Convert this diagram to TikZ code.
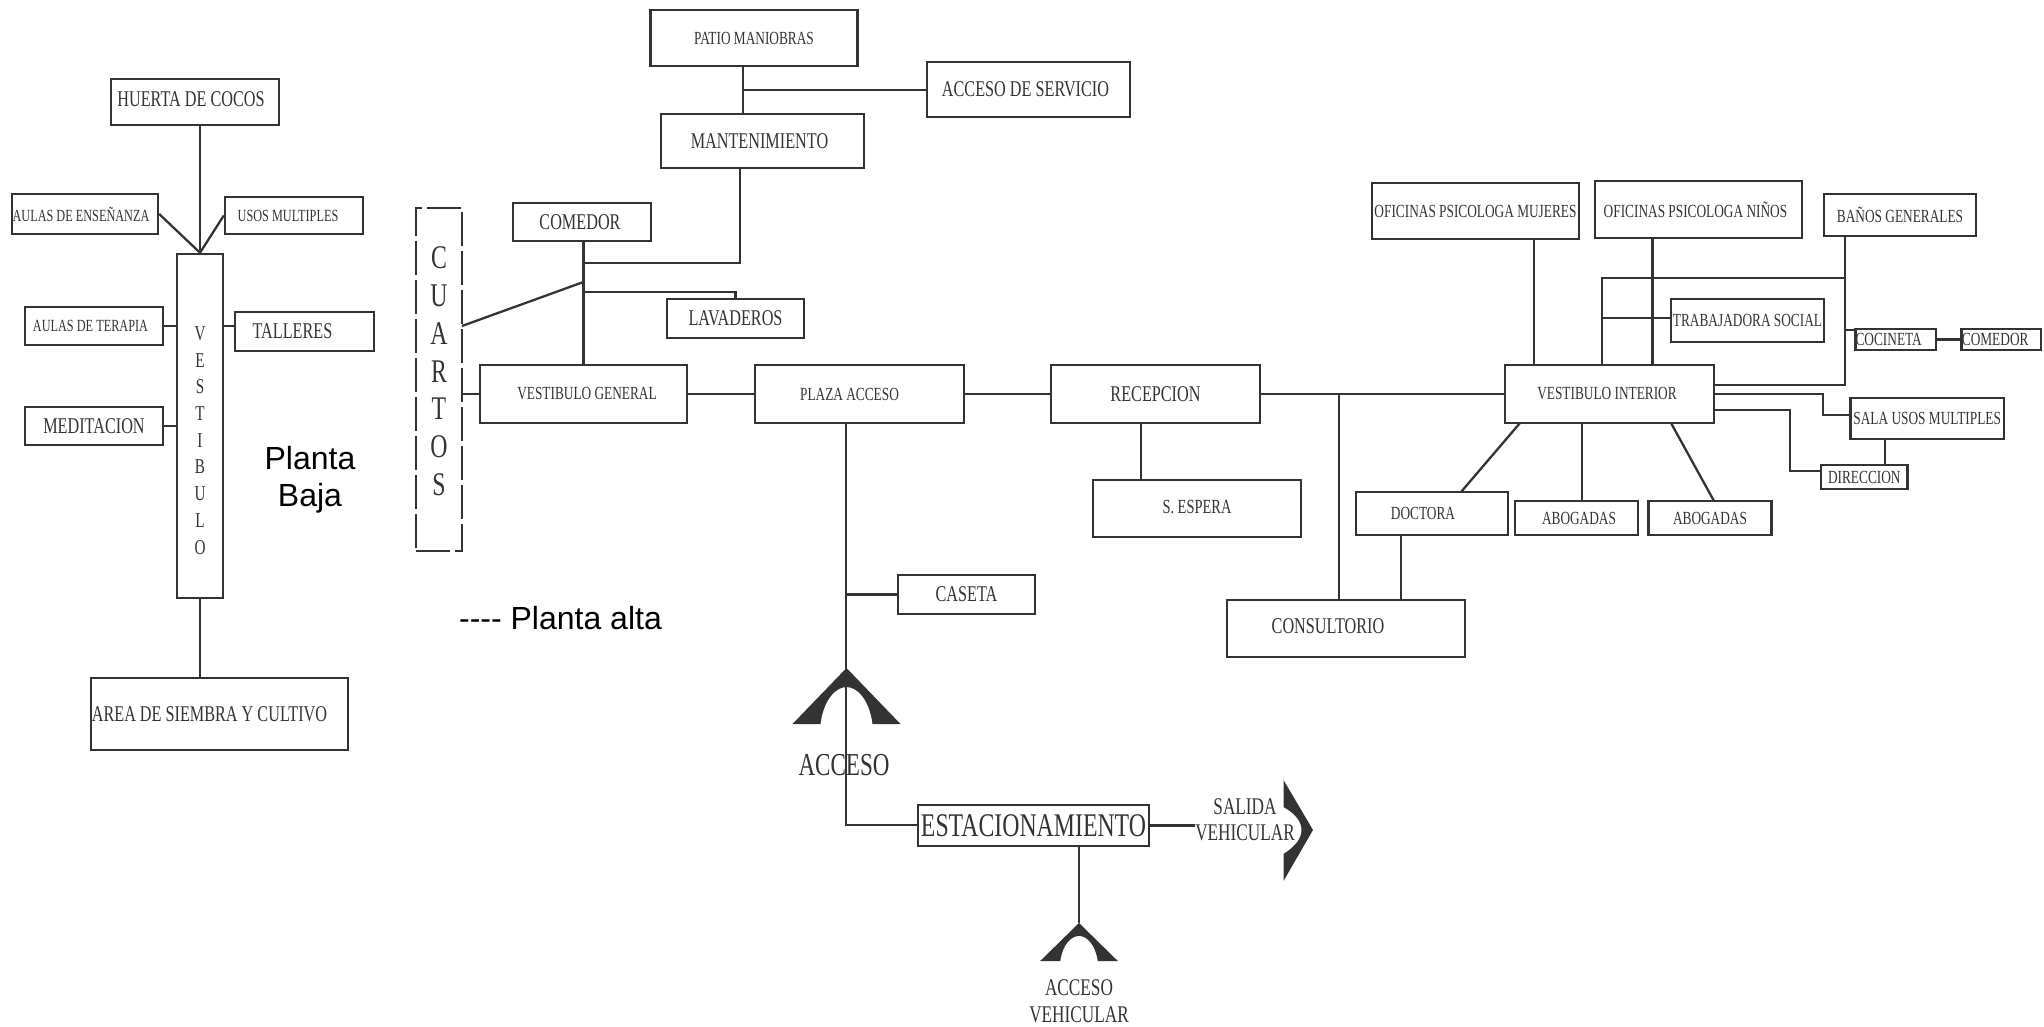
\documentclass[tikz,border=0pt]{standalone}
\usepackage{fontspec}
\setmainfont[FakeStretch=0.72]{Liberation Serif}
\newfontfamily\rotulo{Liberation Sans}
\usetikzlibrary{calc}
\definecolor{tinta}{gray}{0.2}
\tikzset{
	sala/.style={draw=tinta, line width=0.65pt, inner sep=0pt, text=black!80},
	linea/.style={draw=tinta, line width=0.65pt},
	txta/.style={font=\fontsize{4.84}{5.8}\selectfont},
	txtb/.style={font=\fontsize{5.26}{6.3}\selectfont},
	txtc/.style={font=\fontsize{6.4}{7.6}\selectfont},
	txtd/.style={font=\fontsize{6.8}{7.5}\selectfont, text=black!80, inner sep=0pt, align=center},
	rot/.style={font=\rotulo\fontsize{9.1}{10.5}\selectfont, inner sep=0pt, align=center}
}
\def\arco[#1](#2){\fill[tinta, shift={(#2)}, #1] (-54,56) -- (0,0) -- (54,56) -- (26,56) .. controls (23,32) and (11,19) .. (0,19) .. controls (-11,19) and (-23,32) .. (-26,56) -- cycle;}

\begin{document}
\begin{tikzpicture}[x=0.01cm, y=-0.01cm]
		%%%%% PLANTA BAJA %%%%%
		\useasboundingbox (0,0) rectangle (2044,1027);
		
		\node[sala, txtc, minimum width=1.68cm, minimum height=0.46cm] (huerta) at (195,102) {\raisebox{0.05cm}{HUERTA DE COCOS\kern0.08cm}};
		\node[sala, txta, minimum width=1.46cm, minimum height=0.40cm] (ensenanza) at (85,214) {AULAS DE ENSEÑANZA\kern0.08cm};
		\node[sala, txta, minimum width=1.38cm, minimum height=0.37cm] (usos) at (294,215.5) {USOS MULTIPLES\kern0.12cm};
		\node[sala, txta, minimum width=1.38cm, minimum height=0.38cm] (terapia) at (94,326) {AULAS DE TERAPIA\kern0.07cm};
		\node[sala, txtc, minimum width=1.39cm, minimum height=0.39cm] (talleres) at (304.5,331.5) {TALLERES\kern0.24cm};
		\node[sala, txtc, minimum width=1.38cm, minimum height=0.38cm] (meditacion) at (94,426) {MEDITACION};
		\node[sala, font=\fontsize{6}{7.6}\selectfont, align=center, minimum width=0.46cm, minimum height=3.44cm] (vestibulo) at (200,426) {~\\[4.5pt]V\\E\\S\\T\\I\\B\\U\\L\\O};
		\node[sala, txtc, minimum width=2.57cm, minimum height=0.72cm] (siembra) at (219.5,714) {\raisebox{-0.09cm}{AREA DE SIEMBRA Y CULTIVO\kern0.2cm}};
		
		\draw[linea] (huerta.south -| vestibulo.north) -- (vestibulo.north);
		\draw[linea] (ensenanza.east) -- (vestibulo.north);
		\draw[linea] (usos.west) -- (vestibulo.north);
		\draw[linea] (terapia.east) -- (terapia.east -| vestibulo.west);
		\draw[linea] (vestibulo.east |- terapia.east) -- (talleres.west |- terapia.east);
		\draw[linea] (meditacion.east) -- (meditacion.east -| vestibulo.west);
		\draw[linea] (vestibulo.south) -- (vestibulo.south |- siembra.north);
		
		\node[rot] (baja) at (310,480) {Planta\\Baja};
		\node[rot] (alta) at (560.5,618) {---- Planta alta};
		
		%%%%% CENTRO %%%%%
		\node[sala, dash pattern=on 0.34cm off 0.05cm, font=\fontsize{9.4}{10.8}\selectfont, align=center, minimum width=0.46cm, minimum height=3.43cm] (cuartos) at (439,379.5) {C\\U\\A\\R\\T\\O\\S\\[-6pt]~};
		\node[sala, txtb, minimum width=2.07cm, minimum height=0.56cm] (patio) at (754,38) {PATIO MANIOBRAS};
		\node[sala, txtc, minimum width=2.03cm, minimum height=0.55cm] (servicio) at (1028.5,89.5) {ACCESO DE SERVICIO\kern0.06cm};
		\node[sala, txtc, minimum width=2.03cm, minimum height=0.54cm] (mantenimiento) at (762.5,141) {\raisebox{-0.04cm}{MANTENIMIENTO\kern0.06cm}};
		\node[sala, txtc, minimum width=1.38cm, minimum height=0.38cm] (comedor) at (582,222) {COMEDOR\kern0.04cm};
		\node[sala, txtc, minimum width=1.37cm, minimum height=0.39cm] (lavaderos) at (735.5,318.5) {LAVADEROS};
		\node[sala, txtb, minimum width=2.07cm, minimum height=0.58cm] (vestgeneral) at (583.5,394) {\kern0.07cm VESTIBULO GENERAL};
		\node[sala, txtb, minimum width=2.09cm, minimum height=0.58cm] (plaza) at (859.5,394) {PLAZA ACCESO\kern0.2cm};
		\node[sala, txtc, minimum width=2.09cm, minimum height=0.58cm] (recepcion) at (1155.5,394) {RECEPCION};
		\node[sala, font=\fontsize{5.7}{7}\selectfont, minimum width=2.08cm, minimum height=0.57cm] (espera) at (1197,508.5) {\raisebox{0.03cm}{S. ESPERA}};
		\node[sala, txtc, minimum width=1.37cm, minimum height=0.39cm] (caseta) at (966.5,594.5) {CASETA};
		\node[sala, txtc, minimum width=2.38cm, minimum height=0.57cm] (consultorio) at (1346,628.5) {\raisebox{0.05cm}{CONSULTORIO\kern0.36cm}};
		
		\coordinate (jpatio) at (743,90);
		\coordinate (jmant) at (740,263);
		\coordinate (jcomedor) at (583.5,263);
		\coordinate (jcuartos) at (583.5,282);
		\coordinate (ecuartos) at (462,326);
		\coordinate (jlavad) at (583.5,292);
		\coordinate (jacceso) at (846,825);
		\coordinate (jespera) at (1141,480);
		\coordinate (jconsul) at (1339,600);
		
		\draw[linea] (patio.south -| jpatio) -- (jpatio |- mantenimiento.north);
		\draw[linea] (jpatio) -- (jpatio -| servicio.west);
		\draw[linea] (jmant |- mantenimiento.south) -- (jmant) -- (jcomedor);
		\draw[linea] (comedor.south -| jcomedor) -- (jcomedor |- vestgeneral.north);
		\draw[linea] (ecuartos) -- (jcuartos);
		\draw[linea] (jlavad) -- (jlavad -| lavaderos.north) -- (lavaderos.north);
		\draw[linea] (cuartos.east |- vestgeneral.west) -- (vestgeneral.west);
		\draw[linea] (vestgeneral.east) -- (plaza.west);
		\draw[linea] (plaza.east) -- (recepcion.west);
		\draw[linea] (jespera |- recepcion.south) -- (jespera);
		\draw[linea] (jconsul |- recepcion.east) -- (jconsul);
		
		%%%%% ACCESOS %%%%%
		\node[sala, font=\fontsize{9.4}{11}\selectfont, minimum width=2.31cm, minimum height=0.41cm] (estacionamiento) at (1033.5,825.5) {ESTACIONAMIENTO};
		\node[txtd, font=\fontsize{9.1}{11}\selectfont] (acceso) at (844,765.5) {ACCESO};
		\node[txtd] (salida) at (1245,820) {SALIDA\\VEHICULAR};
		\node[txtd, font=\fontsize{6.8}{7.7}\selectfont] (accesoveh) at (1079,1001) {ACCESO\\VEHICULAR};
		\coordinate (aacceso) at (846.5,668);
		\coordinate (aveh) at (1079,923);
		
		\arco[](aacceso);
		\arco[xscale=0.72, yscale=0.68](aveh);
		\fill[tinta] (1283.5,780) -- (1313,830) -- (1283.5,881) -- (1283.5,854) .. controls (1296,846) and (1301.5,838) .. (1301.5,830) .. controls (1301.5,822) and (1296,814) .. (1283.5,807) -- cycle;
		
		\draw[linea] (plaza.south -| jacceso) -- (jacceso) -- (jacceso -| estacionamiento.west);
		\draw[linea] (caseta.west) -- (caseta.west -| jacceso);
		\draw[linea] (estacionamiento.east) -- (salida.west |- estacionamiento.east);
		\draw[linea] (aveh |- estacionamiento.south) -- (aveh);
		
		%%%%% OFICINAS %%%%%
		\node[sala, txtb, minimum width=2.07cm, minimum height=0.56cm] (mujeres) at (1475.5,211) {OFICINAS PSICOLOGA MUJERES};
		\node[sala, txtb, minimum width=2.07cm, minimum height=0.57cm] (ninos) at (1698.5,209.5) {OFICINAS PSICOLOGA NIÑOS\kern0.06cm};
		\node[sala, txtb, minimum width=1.52cm, minimum height=0.42cm] (banos) at (1900,215) {BAÑOS GENERALES};
		\node[sala, txtb, minimum width=1.53cm, minimum height=0.43cm] (trabajadora) at (1747.5,320.5) {TRABAJADORA SOCIAL};
		\node[sala, txtb, minimum width=0.805cm, minimum height=0.21cm] (cocineta) at (1895.7,339.5) {COCINETA\kern0.14cm};
		\node[sala, txtb, minimum width=0.795cm, minimum height=0.21cm] (comedorb) at (2001.2,339.5) {COMEDOR\kern0.12cm};
		\node[sala, txtb, minimum width=2.09cm, minimum height=0.58cm] (vestinterior) at (1609.5,394) {VESTIBULO INTERIOR\kern0.05cm};
		\node[sala, txtb, minimum width=1.535cm, minimum height=0.41cm] (usosb) at (1927.2,418.5) {SALA USOS MULTIPLES};
		\node[sala, txtb, minimum width=0.865cm, minimum height=0.24cm] (direccion) at (1864.3,477) {DIRECCION};
		\node[sala, txtb, minimum width=1.52cm, minimum height=0.43cm] (doctora) at (1432,513.5) {DOCTORA\kern0.18cm};
		\node[sala, txtb, minimum width=1.23cm, minimum height=0.34cm] (abogadasa) at (1576.5,518) {\kern0.05cm ABOGADAS};
		\node[sala, txtb, minimum width=1.23cm, minimum height=0.34cm] (abogadasb) at (1710,518) {ABOGADAS};
		
		\coordinate (jmujeres) at (1534,365);
		\coordinate (jninos) at (1652.5,365);
		\coordinate (jbanos) at (1845,385);
		\coordinate (jalto) at (1845,278);
		\coordinate (jizq) at (1602,278);
		\coordinate (jtrab) at (1602,318);
		\coordinate (jcoc) at (1845,330);
		\coordinate (jsala) at (1823,394);
		\coordinate (jsalb) at (1823,415);
		\coordinate (jdira) at (1790,410);
		\coordinate (jdirb) at (1790,471);
		\coordinate (jdsal) at (1885,465);
		\coordinate (jcons) at (1401,600);
		\coordinate (sdoc) at (1520,423);
		\coordinate (edoc) at (1461,492);
		\coordinate (sabo) at (1582,423);
		\coordinate (stab) at (1671,423);
		\coordinate (etab) at (1714,501);
		
		\draw[linea] (recepcion.east) -- (vestinterior.west);
		\draw[linea] (jmujeres |- mujeres.south) -- (jmujeres);
		\draw[linea] (jninos |- ninos.south) -- (jninos);
		\draw[linea] (jbanos |- banos.south) -- (jbanos) -- (jbanos -| vestinterior.east);
		\draw[linea] (jalto) -- (jizq) -- (jizq |- vestinterior.north);
		\draw[linea] (jtrab) -- (jtrab -| trabajadora.west);
		\draw[linea] (jcoc) -- (jcoc -| cocineta.west);
		\draw[linea] (cocineta.east) -- (comedorb.west);
		\draw[linea] (jsala -| vestinterior.east) -- (jsala) -- (jsalb) -- (jsalb -| usosb.west);
		\draw[linea] (jdira -| vestinterior.east) -- (jdira) -- (jdirb) -- (jdirb -| direccion.west);
		\draw[linea] (jdsal |- usosb.south) -- (jdsal);
		\draw[linea] (sdoc) -- (edoc);
		\draw[linea] (sabo) -- (sabo |- abogadasa.north);
		\draw[linea] (stab) -- (etab);
		\draw[linea] (jcons |- doctora.south) -- (jcons);
		%%%%% END %%%%%
\end{tikzpicture}
\end{document}
